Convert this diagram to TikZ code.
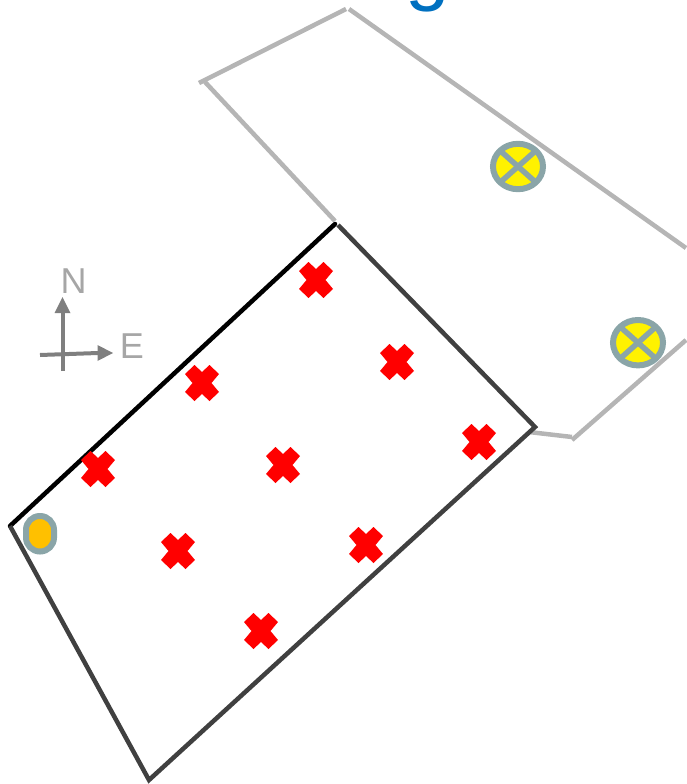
\documentclass[tikz,border=0pt]{standalone}
\usepackage{fontspec}
\setmainfont{Liberation Sans}
\definecolor{hint}{HTML}{A6A6A6}
\definecolor{axisc}{HTML}{7F7F7F}
\definecolor{wallg}{HTML}{B5B5B5}
\definecolor{walld}{HTML}{404040}
\definecolor{ring}{HTML}{8AA5A8}
\definecolor{gblue}{HTML}{0070C0}
\definecolor{amber}{HTML}{FFC000}
\tikzset{
  wallgray/.style={draw=wallg,line width=4.5pt},
  walldark/.style={draw=walld,line width=4.5pt},
  wallblack/.style={draw=black,line width=4.5pt},
  axisline/.style={draw=axisc,line width=4pt},
  axistip/.style={fill=axisc},
  lamp/.pic={
    \fill[red] (-7.5,-18) -- (0,-11) -- (7.5,-18) -- (17,-9) -- (9.5,0) -- (17,9)
      -- (7.5,18) -- (0,11) -- (-7.5,18) -- (-17,9) -- (-9.5,0) -- (-17,-9) -- cycle;
  },
  fixture/.pic={
    \draw[fill=yellow,draw=ring,line width=6pt] (0,0) ellipse[x radius=25,y radius=22.7];
    \draw[ring,line width=5.5pt] (-18,-16) -- (18,16) (-18,16) -- (18,-16);
  }
}
\begin{document}
\begin{tikzpicture}[x=1pt,y=-1pt]
\useasboundingbox (0,0) rectangle (686,784);
\begin{scope}
\clip (0,0) rectangle (686,784);
\node[anchor=base,inner sep=0pt,text=gblue,font=\fontsize{80pt}{80pt}\selectfont] (glyph) at (428,-4) {g};
\end{scope}
% grey room
\coordinate (g1) at (335,221);
\coordinate (g2) at (205,82);
\coordinate (g3) at (199,83);
\coordinate (g4) at (346,9);
\coordinate (g5) at (349,9);
\coordinate (g6) at (686,248);
\coordinate (g7) at (686,340);
\coordinate (g8) at (572,440);
\coordinate (g9) at (572,437);
\coordinate (g10) at (529,432);
\draw[wallgray] (g1) -- (g2);
\draw[wallgray] (g3) -- (g4);
\draw[wallgray] (g5) -- (g6);
\draw[wallgray] (g7) -- (g8);
\draw[wallgray] (g9) -- (g10);
% dark room
\coordinate (d1) at (10,526);
\coordinate (d2) at (335,224);
\coordinate (d3) at (338,225);
\coordinate (d4) at (535,427);
\coordinate (d5) at (149,780);
\draw[wallblack,line cap=round] (d1) -- (d2);
\draw[walldark] (d3) -- (d4) -- (d5) -- (d1);
% compass
\coordinate (vs) at (62.5,371);
\coordinate (ve) at (62.5,312);
\coordinate (hs) at (40,355);
\coordinate (he) at (98,353);
\draw[axisline] (vs) -- (ve);
\draw[axisline] (hs) -- (he);
\fill[axistip] (62.5,297) -- (70.5,313) -- (54.5,313) -- cycle;
\fill[axistip] (113,353) -- (97.5,345) -- (97.5,361) -- cycle;
\node[inner sep=0pt,text=hint,font=\fontsize{36pt}{36pt}\selectfont,anchor=base] (north) at (73.5,293) {N};
\node[inner sep=0pt,text=hint,font=\fontsize{36pt}{36pt}\selectfont,anchor=base] (east) at (132,358) {E};
% lamps
\foreach \n/\x/\y in {a/316/280,b/397/362,c/479/442,d/202/383,e/283/465,f/366/545,h/98/469,i/178/551,j/261/631}
  \pic (\n) at (\x,\y) {lamp};
\pic (fa) at (518,166.5) {fixture};
\pic (fb) at (638,342.7) {fixture};
\draw[fill=amber,draw=ring,line width=6pt,rounded corners=13.9pt] (26,516) rectangle (54,551.5);
\end{tikzpicture}
\end{document}
